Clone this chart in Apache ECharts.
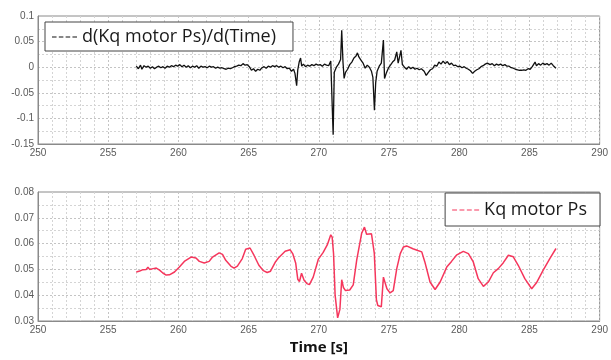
<!DOCTYPE html>
<html>
<head>
<meta charset="utf-8">
<script src="https://cdn.jsdelivr.net/npm/echarts@6/dist/echarts.min.js"></script>
<style>
  html, body { margin: 0; padding: 0; background: #fff; }
  #chart { width: 611px; height: 360px; }
</style>
</head>
<body>
<div id="chart"></div>
<script>
// Time axis shared by both panels
const timeTicks = [250, 255, 260, 265, 270, 275, 280, 285, 290];
const rateTicks = [-0.15, -0.1, -0.05, 0, 0.05, 0.1];
const kqTicks = [0.03, 0.04, 0.05, 0.06, 0.07, 0.08];

const rateName = 'd(Kq motor Ps)/d(Time)';
const kqName = 'Kq motor Ps';
const rateColor = '#111111';
const kqColor = '#f5365c';

// d(Kq motor Ps)/d(Time)
const rateTime = [
  257.0, 257.15, 257.3, 257.4, 257.55, 257.7, 257.85, 258.0, 258.15, 258.3,
  258.45, 258.6, 258.75, 258.9, 259.05, 259.2, 259.35, 259.5, 259.65, 259.8,
  259.95, 260.1, 260.25, 260.4, 260.55, 260.7, 260.85, 261.0, 261.15, 261.3,
  261.45, 261.6, 261.75, 261.9, 262.05, 262.2, 262.35, 262.5, 262.65, 262.8,
  262.95, 263.1, 263.25, 263.4, 263.55, 263.7, 263.85, 264.0, 264.15, 264.3,
  264.45, 264.6, 264.75, 264.9, 265.05, 265.2, 265.35, 265.5, 265.65, 265.8,
  265.95, 266.1, 266.25, 266.4, 266.55, 266.7, 266.85, 267.0, 267.15, 267.3,
  267.45, 267.6, 267.75, 267.9, 268.05, 268.2, 268.3, 268.42, 268.5, 268.6,
  268.7, 268.78, 268.9, 269.05, 269.2, 269.35, 269.5, 269.65, 269.8, 269.95,
  270.1, 270.25, 270.4, 270.55, 270.7, 270.85, 270.95, 271.02, 271.1, 271.25,
  271.4, 271.55, 271.63, 271.72, 271.8, 271.9, 272.05, 272.2, 272.35, 272.5,
  272.65, 272.75, 272.85, 273.0, 273.15, 273.3, 273.45, 273.6, 273.75, 273.85,
  273.96, 274.05, 274.15, 274.3, 274.45, 274.6, 274.68, 274.8, 274.95, 275.1,
  275.25, 275.4, 275.55, 275.65, 275.75, 275.85, 275.95, 276.1, 276.25, 276.4,
  276.55, 276.7, 276.85, 277.0, 277.15, 277.3, 277.5, 277.65, 277.8, 277.95,
  278.1, 278.25, 278.4, 278.55, 278.7, 278.85, 279.0, 279.15, 279.3, 279.45,
  279.6, 279.75, 279.9, 280.05, 280.2, 280.35, 280.5, 280.65, 280.8, 280.95,
  281.1, 281.25, 281.4, 281.55, 281.7, 281.85, 282.0, 282.07, 282.2, 282.35,
  282.5, 282.65, 282.8, 282.95, 283.1, 283.25, 283.4, 283.55, 283.7, 283.85,
  284.0, 284.15, 284.3, 284.45, 284.6, 284.75, 284.9, 285.05, 285.2, 285.3,
  285.4, 285.5, 285.65, 285.8, 285.95, 286.1, 286.25, 286.4, 286.55, 286.7,
  286.89
];
const rateValue = [
  0.002, -0.003, 0.004, -0.004, 0.003, 0.000, 0.002, -0.002, 0.001, -0.003,
  0.000, 0.002, -0.001, 0.001, -0.002, 0.002, 0.000, 0.003, 0.001, 0.004,
  0.002, 0.005, 0.001, 0.004, 0.000, 0.003, -0.001, 0.002, 0.000, 0.003,
  -0.002, 0.002, 0.000, 0.001, -0.001, 0.002, 0.000, 0.001, -0.002, 0.000,
  -0.002, -0.001, -0.003, -0.004, -0.002, -0.003, -0.001, 0.001, 0.002, 0.004,
  0.003, 0.007, 0.004, 0.005, 0.001, -0.006, -0.003, -0.008, -0.004, -0.006,
  -0.001, 0.001, -0.002, 0.002, 0.000, 0.003, 0.001, 0.003, 0.000, 0.002,
  -0.001, 0.001, -0.003, -0.002, -0.008, -0.004, -0.012, -0.036, -0.005, 0.010,
  0.018, 0.002, 0.006, 0.001, 0.004, 0.002, 0.005, 0.003, 0.006, 0.004,
  0.005, 0.002, 0.006, 0.004, 0.003, 0.012, 0.010, -0.132, -0.010, 0.000,
  0.006, 0.015, 0.072, 0.010, -0.022, -0.010, -0.004, 0.005, 0.010, 0.018,
  0.022, 0.028, 0.020, 0.014, 0.008, -0.002, 0.004, 0.000, -0.008, -0.020,
  -0.084, -0.030, -0.008, 0.002, 0.008, 0.053, -0.022, -0.012, -0.002, 0.004,
  0.010, 0.014, 0.030, 0.008, 0.020, 0.033, 0.005, 0.000, -0.004, 0.001,
  -0.003, 0.000, -0.004, -0.002, -0.005, -0.003, -0.008, -0.016, -0.010, -0.005,
  -0.003, 0.004, 0.002, 0.010, 0.006, 0.012, 0.007, 0.011, 0.005, 0.008,
  0.003, 0.004, 0.001, 0.002, -0.001, 0.001, -0.002, -0.004, -0.007, -0.012,
  -0.008, -0.005, -0.003, 0.001, 0.003, 0.006, 0.008, 0.011, 0.005, 0.007,
  0.003, 0.006, 0.004, 0.006, 0.003, 0.005, 0.002, 0.002, -0.001, -0.002,
  -0.004, -0.005, -0.006, -0.006, -0.005, -0.006, -0.003, -0.004, 0.001, -0.002,
  0.010, 0.003, 0.007, 0.004, 0.008, 0.005, 0.007, 0.004, 0.008, 0.003,
  -0.002
];

// Kq motor Ps
const kqTime = [
  257.0, 257.24, 257.48, 257.7, 257.83, 257.95, 258.2, 258.42, 258.66, 258.89,
  259.13, 259.36, 259.72, 260.07, 260.42, 260.9, 261.25, 261.49, 261.84, 262.19,
  262.43, 262.9, 263.14, 263.37, 263.73, 263.96, 264.2, 264.55, 264.79, 265.1,
  265.38, 265.73, 266.05, 266.32, 266.56, 266.91, 267.12, 267.6, 267.96, 268.15,
  268.35, 268.5, 268.62, 268.77, 268.95, 269.15, 269.33, 269.6, 269.97, 270.3,
  270.6, 270.85, 270.95, 271.05, 271.16, 271.34, 271.5, 271.63, 271.75, 271.9,
  272.2, 272.45, 272.7, 273.05, 273.25, 273.4, 273.75, 273.95, 274.1, 274.2,
  274.45, 274.6, 274.85, 275.07, 275.3, 275.55, 275.8, 276.02, 276.25, 276.7,
  277.05, 277.33, 277.55, 277.92, 278.28, 278.64, 279.11, 279.45, 279.8, 280.29,
  280.65, 281.0, 281.35, 281.72, 282.07, 282.43, 282.78, 283.14, 283.5, 283.85,
  284.2, 284.67, 285.16, 285.5, 285.97, 286.45, 286.89
];
const kqValue = [
  0.0490, 0.0494, 0.0499, 0.0500, 0.0508, 0.0500, 0.0503, 0.0505, 0.0497, 0.0486,
  0.0478, 0.0479, 0.0490, 0.0509, 0.0531, 0.0548, 0.0544, 0.0531, 0.0525, 0.0531,
  0.0548, 0.0564, 0.0558, 0.0535, 0.0513, 0.0505, 0.0513, 0.0542, 0.0578, 0.0583,
  0.0555, 0.0516, 0.0495, 0.0488, 0.0493, 0.0529, 0.0544, 0.0570, 0.0576, 0.0560,
  0.0525, 0.0462, 0.0453, 0.0485, 0.0458, 0.0445, 0.0441, 0.0470, 0.0540, 0.0565,
  0.0595, 0.0634, 0.0625, 0.0560, 0.0400, 0.0312, 0.0345, 0.0460, 0.0430, 0.0418,
  0.0420, 0.0440, 0.0537, 0.0640, 0.0664, 0.0636, 0.0638, 0.0563, 0.0383, 0.0360,
  0.0355, 0.0470, 0.0425, 0.0409, 0.0418, 0.0503, 0.0561, 0.0587, 0.0591, 0.0580,
  0.0573, 0.0568, 0.0529, 0.0451, 0.0422, 0.0451, 0.0509, 0.0531, 0.0555, 0.0570,
  0.0561, 0.0529, 0.0464, 0.0434, 0.0451, 0.0487, 0.0503, 0.0526, 0.0555, 0.0549,
  0.0516, 0.0464, 0.0425, 0.0448, 0.0496, 0.0542, 0.0581
];

const pairs = (xs, ys) => xs.map((x, i) => [x, ys[i]]);

const chart = echarts.init(document.getElementById('chart'), null, { renderer: 'canvas' });

const labelStyle = { color: '#5a5a5a', fontSize: 10, fontFamily: 'Liberation Sans' };
const majorGrid = { show: true, lineStyle: { color: '#c4c4c4', width: 1, type: [2, 2] } };
const minorGrid = { show: true, lineStyle: { color: '#d4d4d4', width: 1, type: [2, 2] } };
const frame = { show: true, onZero: false, lineStyle: { color: '#8a8a8a', width: 1 } };

function timeAxis(gridIndex, extra) {
  return Object.assign({
    type: 'value', gridIndex,
    min: timeTicks[0], max: timeTicks[timeTicks.length - 1], interval: 5,
    axisLine: frame, axisTick: { show: false },
    axisLabel: Object.assign({ margin: 4 }, labelStyle),
    splitLine: majorGrid,
    minorTick: { show: false, splitNumber: 5 },
    minorSplitLine: minorGrid
  }, extra || {});
}

// four short dashes, like a dashed-line key
const dashIcon = 'path://M0,0h4v1h-4z M6,0h4v1h-4z M12,0h4v1h-4z M18,0h4v1h-4z';

chart.setOption({
  animation: false,
  backgroundColor: '#fff',
  grid: [
    { left: 38, right: 10, top: 16, height: 128, show: true, borderColor: '#8a8a8a', borderWidth: 1 },
    { left: 38, right: 10, top: 192, height: 129, show: true, borderColor: '#8a8a8a', borderWidth: 1 }
  ],
  legend: [
    {
      data: [{ name: rateName, itemStyle: { color: rateColor } }], left: 45, top: 22,
      icon: dashIcon, itemWidth: 25, itemHeight: 2, itemGap: 0,
      backgroundColor: '#fff', borderColor: '#444', borderWidth: 1,
      padding: [6, 17, 5, 7],
      textStyle: { fontSize: 18, color: '#1a1a1a', fontFamily: 'Open Sans' }
    },
    {
      data: [{ name: kqName, itemStyle: { color: kqColor } }], right: 11, top: 193,
      icon: dashIcon, itemWidth: 27, itemHeight: 2, itemGap: 0,
      backgroundColor: '#fff', borderColor: '#444', borderWidth: 1,
      padding: [8, 13, 7, 7],
      textStyle: { fontSize: 18, color: '#1a1a1a', fontFamily: 'Open Sans' }
    }
  ],
  xAxis: [
    timeAxis(0),
    timeAxis(1, {
      name: 'Time [s]', nameLocation: 'middle', nameGap: 19,
      nameTextStyle: { fontSize: 15, fontWeight: 'bold', color: '#111', fontFamily: 'Open Sans' }
    })
  ],
  yAxis: [
    {
      type: 'value', gridIndex: 0,
      min: rateTicks[0], max: rateTicks[rateTicks.length - 1], interval: 0.05,
      axisLine: frame, axisTick: { show: false },
      axisLabel: Object.assign({ margin: 4, formatter: v => String(+v.toFixed(2)) }, labelStyle),
      splitLine: majorGrid,
      minorTick: { show: false, splitNumber: 2 },
      minorSplitLine: minorGrid
    },
    {
      type: 'value', gridIndex: 1,
      min: kqTicks[0], max: kqTicks[kqTicks.length - 1], interval: 0.01,
      axisLine: frame, axisTick: { show: false },
      axisLabel: Object.assign({ margin: 4, formatter: v => v.toFixed(2) }, labelStyle),
      splitLine: majorGrid,
      minorTick: { show: false, splitNumber: 2 },
      minorSplitLine: minorGrid
    }
  ],
  series: [
    {
      name: rateName, type: 'line', xAxisIndex: 0, yAxisIndex: 0,
      data: pairs(rateTime, rateValue),
      showSymbol: false, color: rateColor,
      lineStyle: { width: 1.3, color: rateColor }
    },
    {
      name: kqName, type: 'line', xAxisIndex: 1, yAxisIndex: 1,
      data: pairs(kqTime, kqValue),
      showSymbol: false, color: kqColor,
      lineStyle: { width: 1.5, color: kqColor }
    }
  ]
});
</script>
</body>
</html>
